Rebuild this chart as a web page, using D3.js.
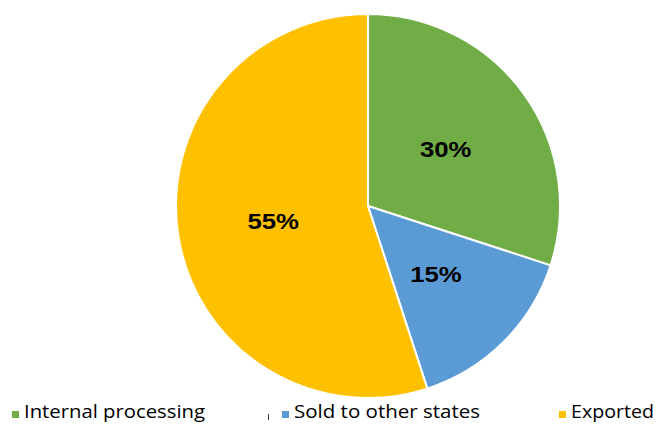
<!DOCTYPE html>
<html>
<head>
<meta charset="utf-8">
<script src="https://cdn.jsdelivr.net/npm/d3@7"></script>
<style>
  html, body { margin: 0; padding: 0; background: #ffffff; }
  svg { display: block; }
</style>
</head>
<body>
<svg id="chart" width="659" height="425"></svg>
<script>
// Destination of the harvest, share of total
const categories = ["Internal processing", "Sold to other states", "Exported"];
const shares = [30, 15, 55];
const colors = ["#70AD47", "#5B9BD5", "#FFC000"];

const svg = d3.select("#chart");
const cx = 368, cy = 206, radius = 192;

const pie = d3.pie().sort(null).value(d => d)(shares);
const arc = d3.arc().innerRadius(0).outerRadius(radius);
const labelArc = d3.arc().innerRadius(96).outerRadius(96);

const g = svg.append("g").attr("transform", `translate(${cx},${cy})`);

g.selectAll("path.slice")
  .data(pie)
  .join("path")
  .attr("class", "slice")
  .attr("d", arc)
  .attr("fill", (d, i) => colors[i])
  .attr("stroke", "#ffffff")
  .attr("stroke-width", 2)
  .attr("stroke-linejoin", "round");

g.selectAll("text.pct")
  .data(pie)
  .join("text")
  .attr("class", "pct")
  .attr("transform", d => {
    const [x, y] = labelArc.centroid(d);
    return `translate(${x},${y}) scale(1.17,1)`;
  })
  .attr("text-anchor", "middle")
  .attr("dy", "0.36em")
  .attr("font-family", "Liberation Sans, Arial, sans-serif")
  .attr("font-weight", "bold")
  .attr("font-size", 22)
  .attr("fill", "#000000")
  .text(d => d.value + "%");

// Legend along the bottom
const legendX = [12, 282, 559];
const legendWidths = [181, 186, 83];
const legend = svg.append("g").attr("class", "legend");
const items = legend.selectAll("g.item")
  .data(categories)
  .join("g")
  .attr("class", "item")
  .attr("transform", (d, i) => `translate(${legendX[i]},0)`);

items.append("rect")
  .attr("x", 0)
  .attr("y", 411)
  .attr("width", 7)
  .attr("height", 7)
  .attr("fill", (d, i) => colors[i]);

items.append("text")
  .attr("x", 12)
  .attr("y", 418)
  .attr("font-family", "Open Sans, Noto Sans, sans-serif")
  .attr("font-size", 18)
  .attr("textLength", (d, i) => legendWidths[i])
  .attr("lengthAdjust", "spacingAndGlyphs")
  .attr("fill", "#000000")
  .text(d => d);

// small tick between the first two legend entries
legend.append("line")
  .attr("x1", 268.5).attr("x2", 268.5)
  .attr("y1", 414).attr("y2", 420)
  .attr("stroke", "#333333")
  .attr("stroke-width", 1);
</script>
</body>
</html>
